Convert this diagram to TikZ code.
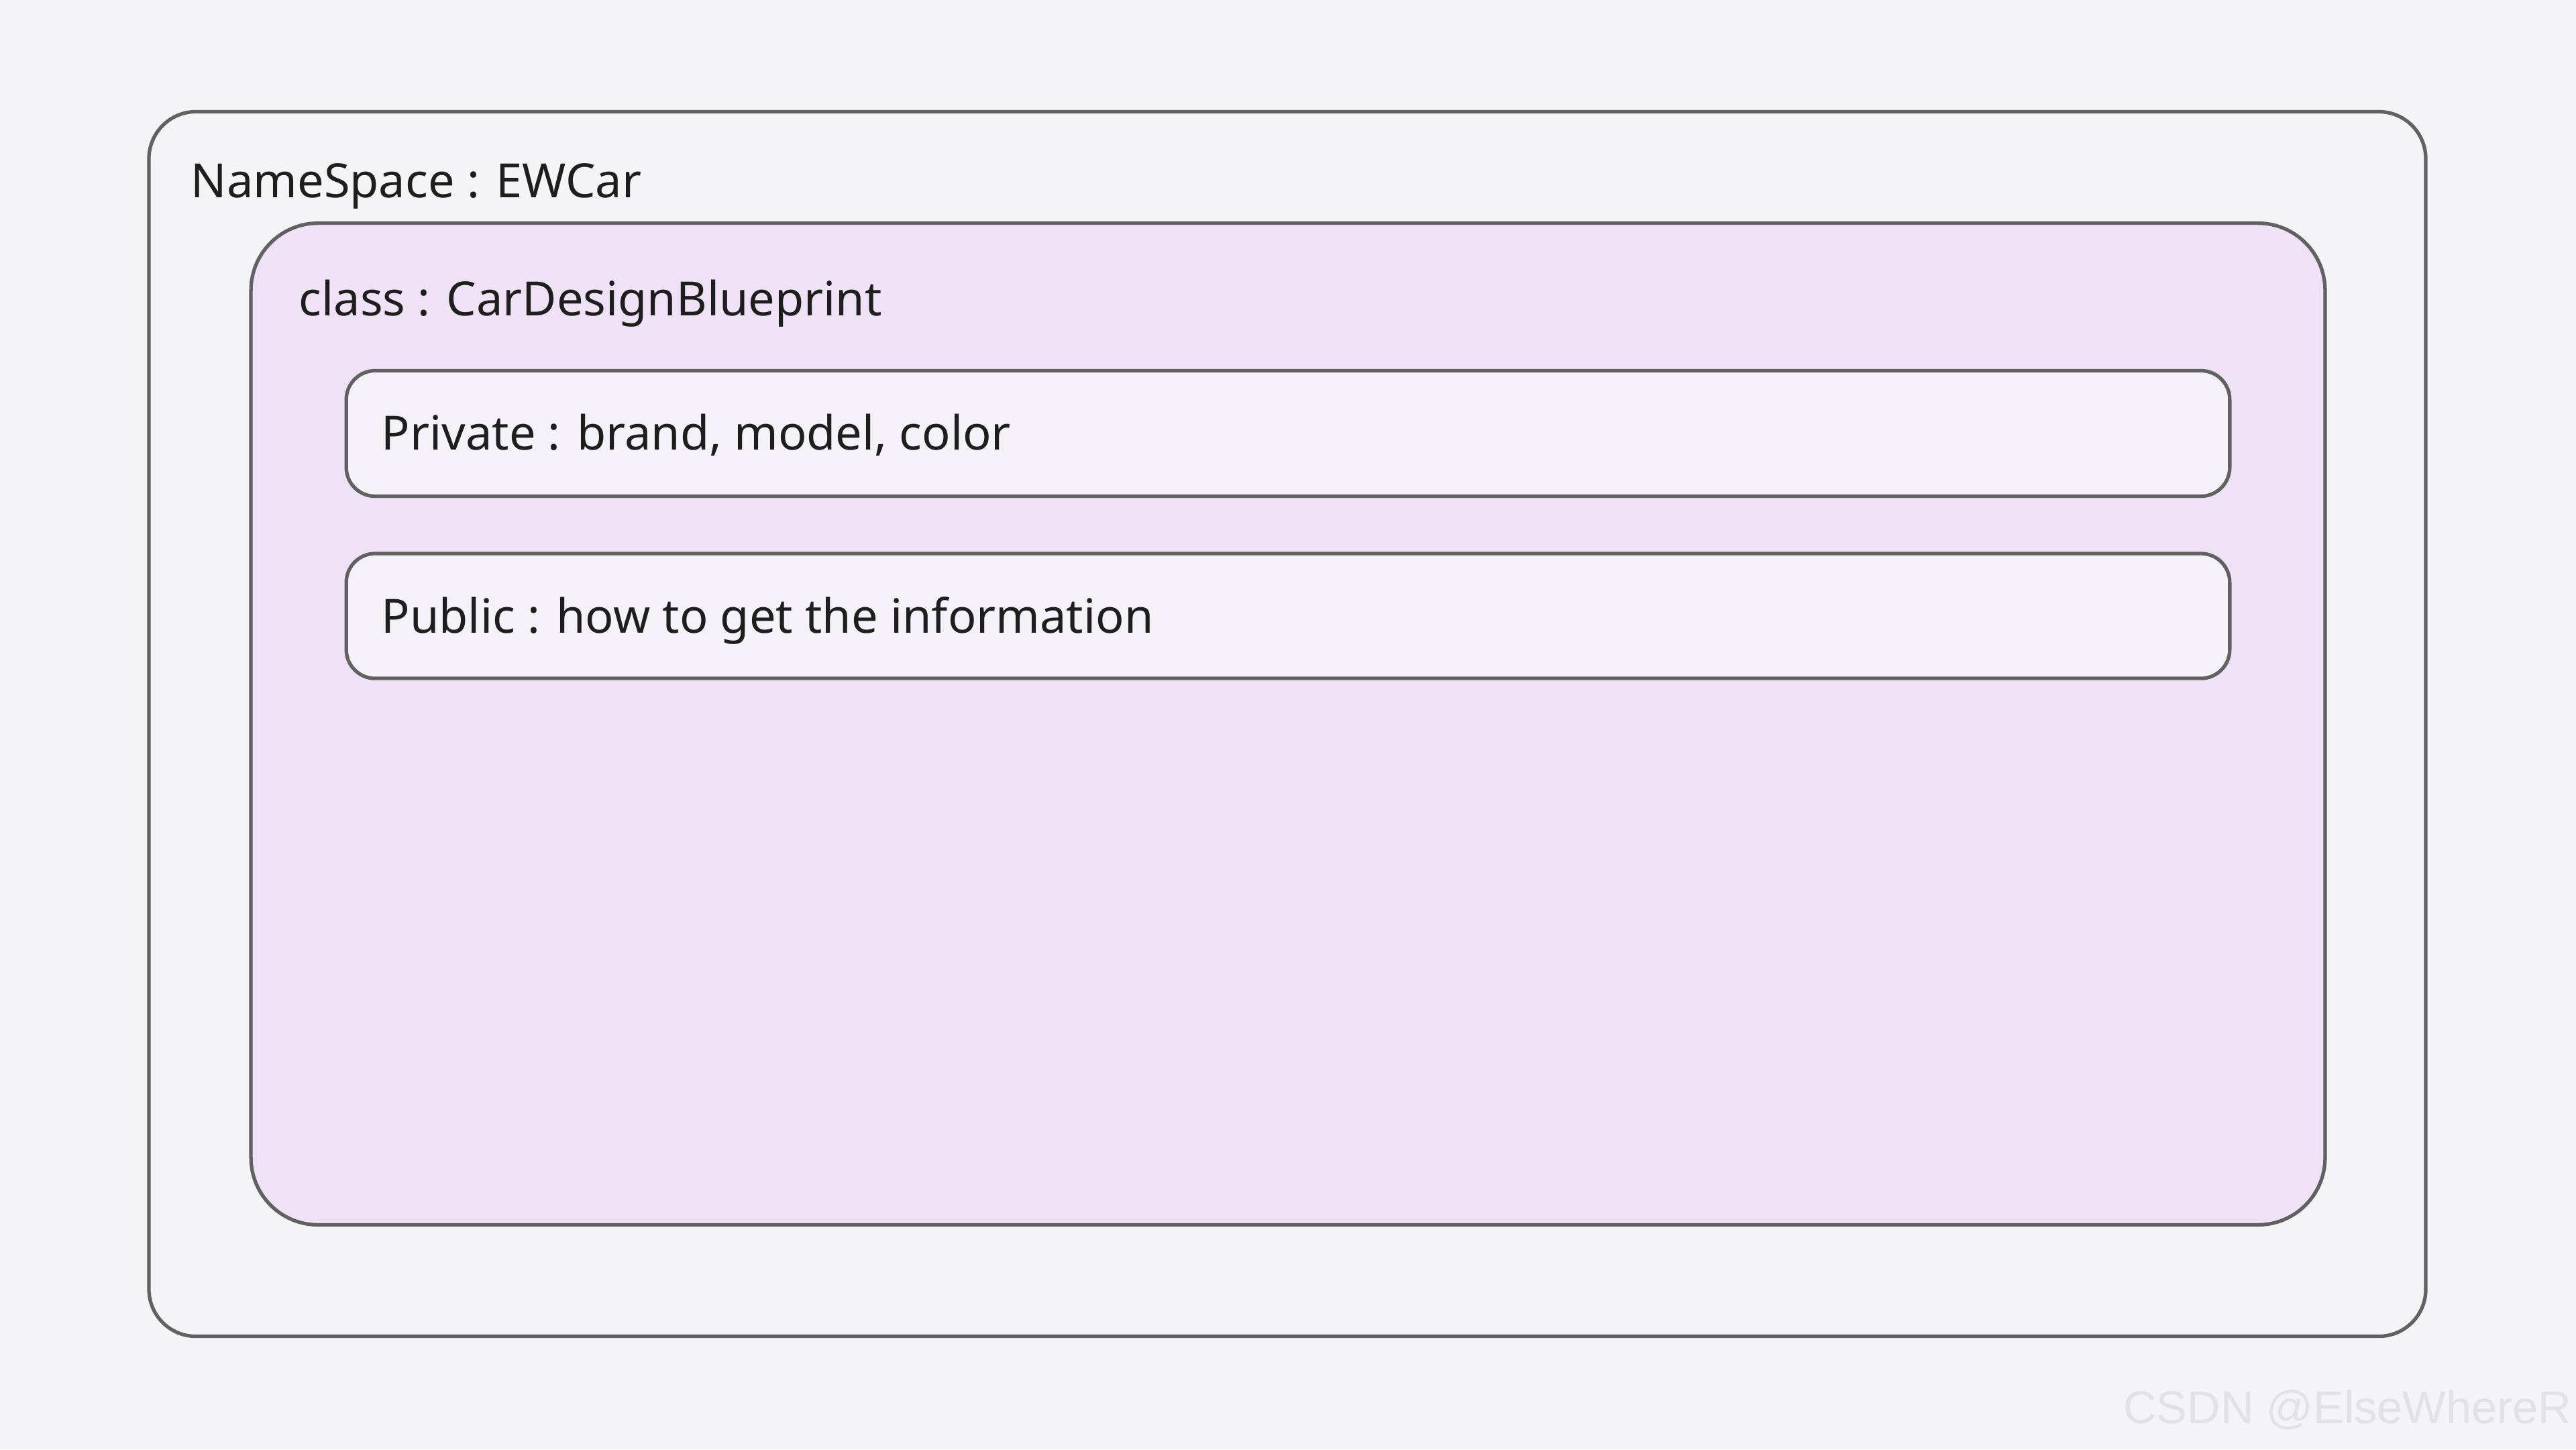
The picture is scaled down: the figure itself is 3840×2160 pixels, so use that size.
\documentclass[tikz,border=0pt]{standalone}
\usepackage{fontspec}
\setmainfont{Noto Sans}
\newfontfamily\markfont{Liberation Sans}
\usetikzlibrary{positioning}
\definecolor{pagebg}{HTML}{F4F4F7}
\definecolor{classfill}{HTML}{EFE1F6}
\definecolor{memberfill}{HTML}{F4F2F7}
\definecolor{edgegrey}{HTML}{616161}
\definecolor{inkgrey}{HTML}{1E1E1E}
\definecolor{markgrey}{HTML}{E2E2E4}

\begin{document}
\begin{tikzpicture}[x=0.01cm,y=-0.01cm]
      \tikzset{frame/.style={draw=edgegrey,
          line width=1.5pt,
          inner sep=0pt,
          outer sep=0pt,
          rounded corners=#1},
        caption/.style={anchor=base west,
          inner sep=0pt,
          text=inkgrey,
          font=\fontsize{20}{24}\selectfont}
      }
      \fill [pagebg] (0,0) rectangle (3840,2160);
      \useasboundingbox (0,0) rectangle (3840,2160);
      \node [frame=0.7cm,fill=pagebg,minimum width=33.92cm,minimum height=18.24cm] (nspace) at (1919,1079) {};
      \node [frame=1cm,fill=classfill,minimum width=30.9cm,minimum height=14.92cm] (cls) at (1920,1079) {};
      \node [frame=0.43cm,fill=memberfill,minimum width=28.06cm,minimum height=1.87cm] (priv) at (1920,646) {};
      \node [frame=0.43cm,fill=memberfill,minimum width=28.06cm,minimum height=1.86cm] (pub) at (1920,918) {};
      \node [caption] (nstitle) at (284,294) {NameSpace : EWCar};
      \node [caption] (clstitle) at (445,470) {class : CarDesignBlueprint};
      \node [caption] (privtext) at (568,670) {Private : brand, model, color};
      \node [caption] (pubtext) at (568,943) {Public : how to get the information};
      \node [anchor=base east,inner sep=0pt,text=markgrey,font=\markfont\fontsize{19.5}{23}\selectfont] (mark) at (3834,2121) {CSDN @ElseWhereR};
    \end{tikzpicture}
\end{document}
